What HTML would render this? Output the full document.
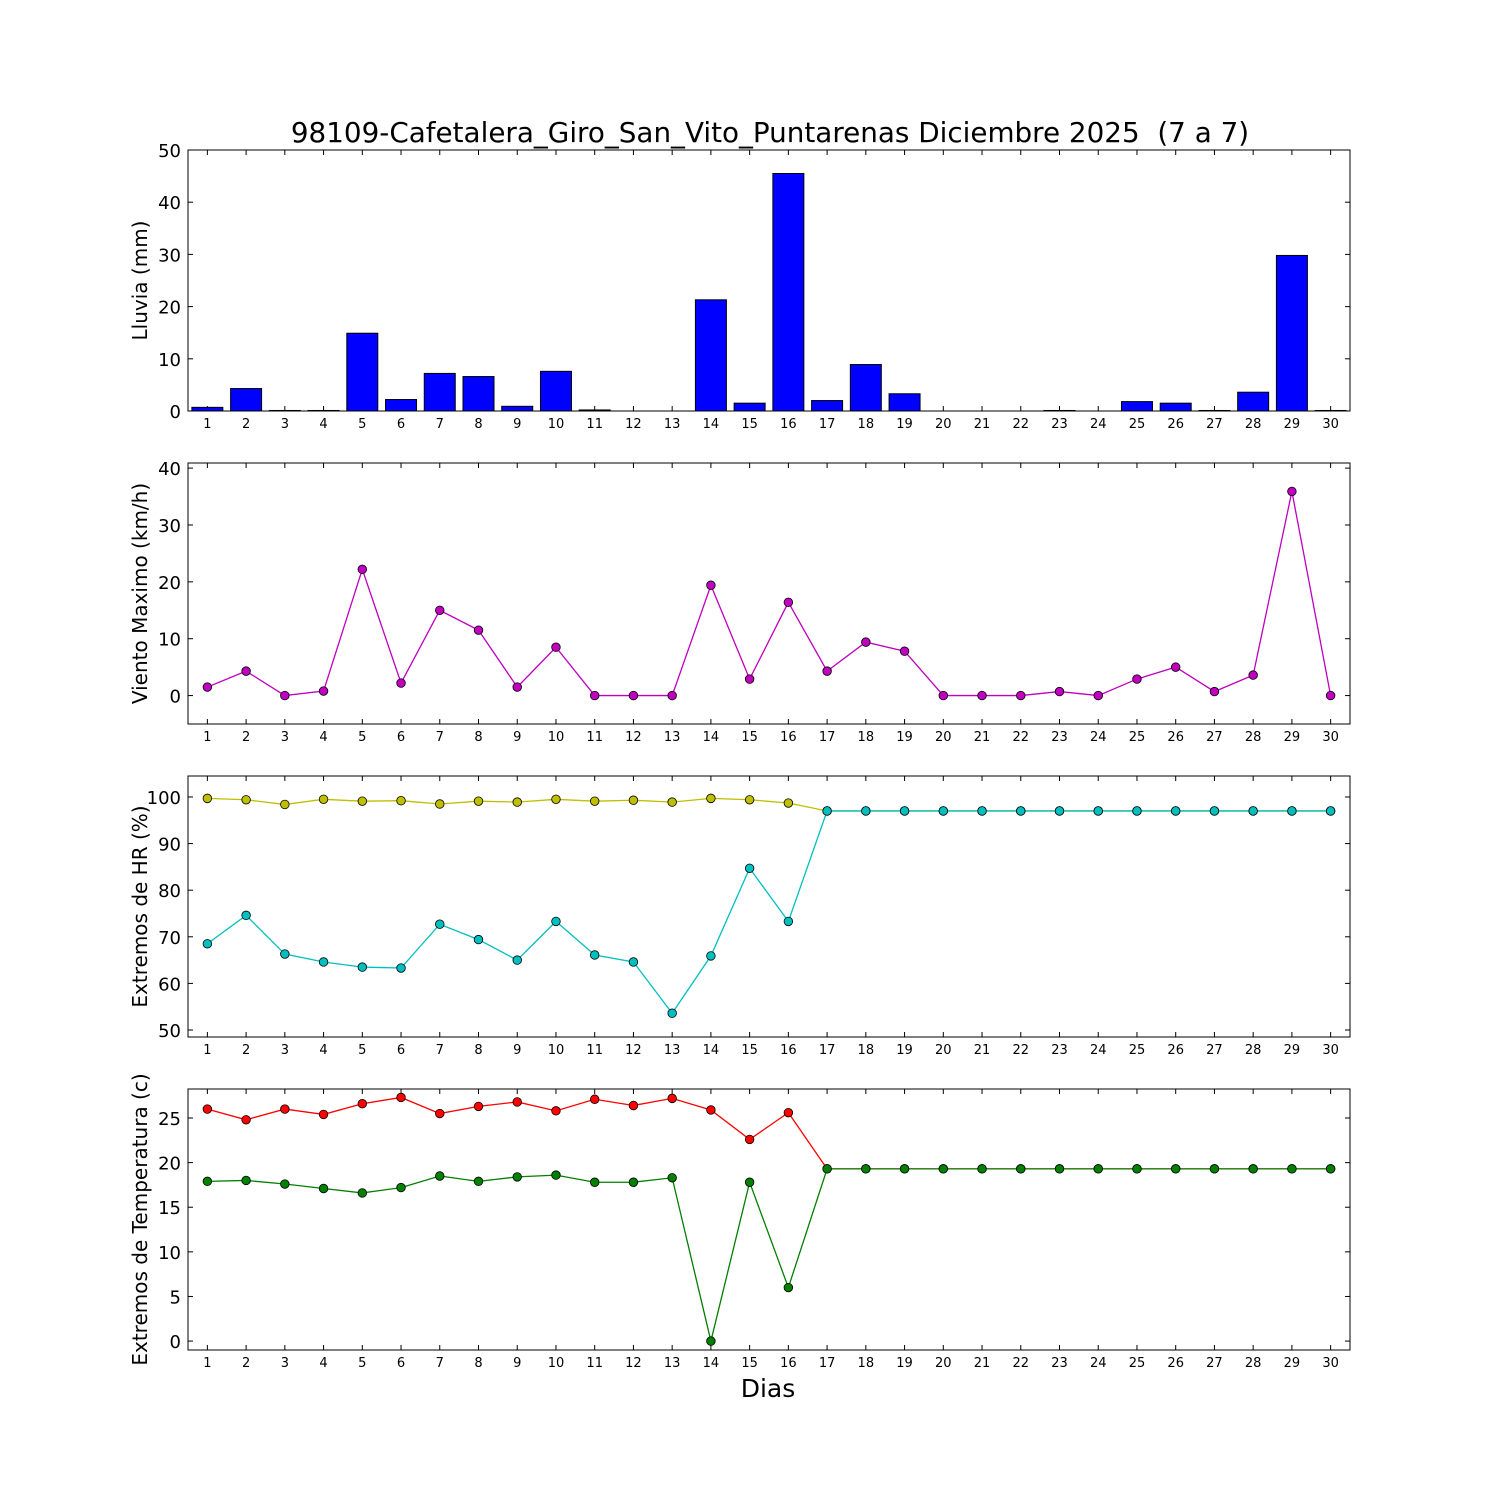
<!DOCTYPE html>
<html><head><meta charset="utf-8"><style>
body{margin:0;background:#fff;}
svg{display:block;font-family:"DejaVu Sans","Liberation Sans",sans-serif;}
</style></head><body>
<svg id="c" width="1500" height="1500" xmlns="http://www.w3.org/2000/svg">
<rect width="1500" height="1500" fill="#fff"/>
<text x="770" y="142" font-size="27.8" text-anchor="middle" style="white-space:pre">98109-Cafetalera_Giro_San_Vito_Puntarenas Diciembre 2025  (7 a 7)</text>
<text x="768" y="1397" font-size="25" text-anchor="middle">Dias</text>
</svg>
<script>
const days=[1,2,3,4,5,6,7,8,9,10,11,12,13,14,15,16,17,18,19,20,21,22,23,24,25,26,27,28,29,30];
const rain=[0.7,4.3,0.1,0.1,14.9,2.2,7.2,6.6,0.9,7.6,0.2,0,0,21.3,1.5,45.5,2.0,8.9,3.3,0,0,0,0.1,0,1.8,1.5,0.1,3.6,29.8,0.1];
const wind=[1.5,4.3,0,0.8,22.2,2.2,15,11.5,1.5,8.5,0,0,0,19.4,2.9,16.4,4.3,9.4,7.8,0,0,0,0.7,0,2.9,5,0.7,3.6,35.9,0];
const hrMax=[99.7,99.4,98.4,99.5,99.1,99.2,98.5,99.1,98.9,99.5,99.1,99.3,98.9,99.7,99.4,98.7,97,97,97,97,97,97,97,97,97,97,97,97,97,97];
const hrMin=[68.5,74.6,66.3,64.6,63.5,63.3,72.7,69.4,65.0,73.3,66.1,64.6,53.6,65.9,84.7,73.3,97,97,97,97,97,97,97,97,97,97,97,97,97,97];
const tMax=[26.0,24.8,26.0,25.4,26.6,27.3,25.5,26.3,26.8,25.8,27.1,26.4,27.2,25.9,22.6,25.6,19.3,19.3,19.3,19.3,19.3,19.3,19.3,19.3,19.3,19.3,19.3,19.3,19.3,19.3];
const tMin=[17.9,18.0,17.6,17.1,16.6,17.2,18.5,17.9,18.4,18.6,17.8,17.8,18.3,0,17.8,6.0,19.3,19.3,19.3,19.3,19.3,19.3,19.3,19.3,19.3,19.3,19.3,19.3,19.3,19.3];
const rainTicks=[0,10,20,30,40,50];
const windTicks=[0,10,20,30,40];
const hrTicks=[50,60,70,80,90,100];
const tTicks=[0,5,10,15,20,25];

const svg=document.getElementById('c');
const NS='http://www.w3.org/2000/svg';
function mk(tag,attrs,parent){const e=document.createElementNS(NS,tag);for(const k in attrs)e.setAttribute(k,attrs[k]);(parent||svg).appendChild(e);return e;}
const X0=188,X1=1350;
function xs(d){return X0+(d-0.5)/30*(X1-X0);}

function panel(name,top,bot,ymin,ymax,ticks,label){
  const g=mk('g',{});
  
  
  const ys=v=>bot-(v-ymin)/(ymax-ymin)*(bot-top);
  ticks.forEach(t=>{
    const y=ys(t);
    mk('line',{x1:X0,x2:X0+5,y1:y,y2:y,stroke:'#000'},g);
    mk('line',{x1:X1-5,x2:X1,y1:y,y2:y,stroke:'#000'},g);
    const tx=mk('text',{x:X0-7,y:y+7,'font-size':18,'text-anchor':'end'},g);
    tx.textContent=t;
    
    
  });
  days.forEach(d=>{
    const x=xs(d);
    mk('line',{x1:x,x2:x,y1:bot,y2:bot-5,stroke:'#000'},g);
    mk('line',{x1:x,x2:x,y1:top,y2:top+5,stroke:'#000'},g);
    const tx=mk('text',{x:x,y:bot+17,'font-size':13,'text-anchor':'middle'},g);
    tx.textContent=d;
    
    
  });
  const yl=mk('text',{x:0,y:0,'font-size':20,'text-anchor':'middle',transform:`translate(147,${(top+bot)/2}) rotate(-90)`},g);
  yl.textContent=label;
  
  
  return {g,ys,top,bot};
}
function frame(p){
  const r=mk('rect',{x:X0,y:p.top,width:X1-X0,height:p.bot-p.top,fill:'none',stroke:'#000','stroke-width':1},p.g);
  
  
}
function series(p,vals,color,name){
  const pts=vals.map((v,i)=>xs(days[i])+','+p.ys(v)).join(' ');
  const l=mk('polyline',{points:pts,fill:'none',stroke:color,'stroke-width':1.3},p.g);
  
  
  vals.forEach((v,i)=>{
    const c=mk('circle',{cx:xs(days[i]),cy:p.ys(v),r:4.3,fill:color,stroke:'#000','stroke-width':0.8},p.g);
    
    
  });
}

const p1=panel('rain',150,411,0,50,rainTicks,'Lluvia (mm)');
rain.forEach((v,i)=>{
  const x=xs(days[i])-0.4*(X1-X0)/30, w=0.8*(X1-X0)/30;
  const y=p1.ys(v);
  const b=mk('rect',{x:x,y:y,width:w,height:p1.bot-y,fill:'#0000ff',stroke:'#000','stroke-width':1},p1.g);
  
  
});
frame(p1);
const p2=panel('wind',463,724,-5,40.9,windTicks,'Viento Maximo (km/h)');
series(p2,wind,'#bf00bf','wind');
frame(p2);
const p3=panel('humidity',776,1037,48.5,104.5,hrTicks,'Extremos de HR (%)');
series(p3,hrMax,'#bfbf00','hr-max');
series(p3,hrMin,'#00bfbf','hr-min');
frame(p3);
const p4=panel('temperature',1089,1350,-1,28.25,tTicks,'Extremos de Temperatura (c)');
series(p4,tMax,'#ff0000','temp-max');
series(p4,tMin,'#008000','temp-min');
frame(p4);
</script>
</body></html>
